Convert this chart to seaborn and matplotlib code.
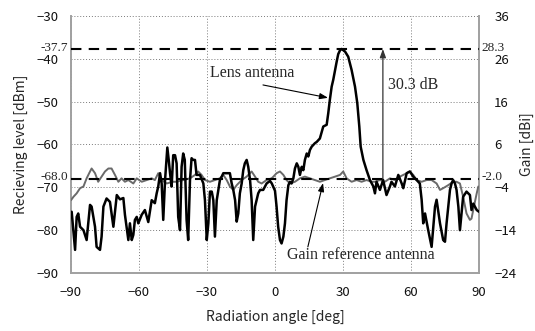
import matplotlib
matplotlib.use("Agg")
import matplotlib.pyplot as plt
import seaborn as sns
import pandas as pd

# ---------------- data ----------------
lens_angle = [-89.7, -88.2, -87.5, -86.8, -86.0, -84.5, -83.1, -81.6, -80.9, -79.4,
              -78.7, -77.2, -76.5, -75.7, -74.3, -72.8, -71.3, -69.8, -68.4, -66.9,
              -66.2, -65.5, -64.7, -64.0, -63.2, -62.5, -61.8, -61.0, -60.3, -58.8,
              -57.4, -55.9, -54.4, -53.0, -52.2, -51.5, -50.7, -50.0, -49.3, -48.5,
              -47.5, -46.8, -46.3, -45.6, -44.9, -44.1, -43.4, -42.7, -41.9, -41.2,
              -40.5, -39.8, -39.0, -38.3, -37.5, -36.8, -36.1, -35.3, -34.6, -33.1,
              -31.6, -30.9, -30.1, -29.4, -28.7, -27.9, -27.2, -26.5, -25.7, -25.0,
              -24.3, -23.5, -22.8, -19.9, -19.1, -18.4, -17.6, -16.9, -16.2, -15.5,
              -14.7, -14.0, -13.3, -12.5, -11.8, -11.0, -10.3, -9.6, -8.8, -8.1,
              -7.4, -6.6, -5.2, -3.7, -2.2, -1.4, 0.0, 0.7, 1.4, 2.2,
              2.9, 3.7, 4.4, 5.1, 5.9, 6.6, 7.3, 8.1, 8.8, 9.6,
              10.3, 11.0, 11.8, 12.5, 13.2, 14.0, 14.7, 15.4, 16.2, 17.6,
              18.4, 19.8, 21.3, 22.8, 23.5, 24.2, 25.0, 25.7, 26.5, 27.2,
              27.9, 28.7, 29.4, 30.9, 32.3, 33.8, 35.3, 36.3, 37.2, 37.8,
              39.0, 40.4, 41.9, 43.4, 44.1, 44.8, 46.3, 47.7, 48.5, 49.2,
              50.7, 51.4, 52.9, 54.4, 55.9, 56.6, 58.1, 59.5, 61.0, 62.5,
              63.9, 64.7, 65.4, 66.2, 67.6, 69.1, 70.6, 71.3, 72.8, 74.2,
              75.0, 75.7, 77.2, 77.9, 78.6, 79.4, 80.1, 80.9, 81.6, 82.3,
              83.0, 84.5, 86.0, 86.7, 87.5, 89.0, 90.0]
lens_level = [-75.7, -84.6, -76.9, -76.1, -79.2, -80.0, -82.3, -74.1, -74.5, -79.2,
              -83.9, -84.6, -81.5, -74.5, -72.6, -73.4, -79.2, -71.8, -72.8, -72.5,
              -76.4, -79.2, -82.3, -78.4, -82.3, -81.1, -77.6, -76.9, -78.4, -76.4,
              -75.3, -78.1, -73.0, -73.7, -71.4, -69.8, -66.7, -69.1, -77.6, -68.3,
              -60.7, -64.0, -66.7, -69.8, -62.5, -62.5, -64.4, -76.9, -80.0, -65.2,
              -62.1, -63.6, -77.6, -82.3, -68.3, -63.2, -63.6, -63.6, -67.1, -67.1,
              -69.1, -73.0, -82.3, -78.4, -71.0, -71.0, -73.0, -81.5, -73.0, -70.6,
              -68.3, -67.5, -66.7, -66.7, -69.1, -70.6, -73.0, -78.0, -76.1, -71.4,
              -69.1, -66.0, -64.4, -63.6, -65.2, -68.3, -73.0, -82.3, -74.5, -73.0,
              -71.4, -70.6, -70.6, -69.1, -68.5, -69.1, -70.8, -74.5, -79.2, -82.3,
              -83.1, -81.5, -78.4, -73.0, -69.5, -68.7, -69.1, -67.9, -65.6, -64.4,
              -65.2, -67.1, -65.2, -66.0, -63.6, -62.1, -62.8, -61.3, -60.5, -59.7,
              -59.4, -58.6, -55.8, -55.4, -52.7, -49.6, -46.5, -44.9, -42.6, -40.7,
              -38.9, -38.0, -37.7, -38.3, -39.5, -42.6, -46.5, -50.3, -55.8, -60.5,
              -63.6, -66.0, -68.3, -69.8, -71.4, -68.7, -70.6, -68.3, -70.2, -71.8,
              -69.8, -68.7, -69.8, -67.1, -69.1, -70.2, -66.7, -66.3, -67.5, -68.3,
              -69.1, -72.9, -78.4, -76.1, -80.0, -83.9, -74.5, -72.9, -78.4, -82.3,
              -82.7, -78.4, -70.6, -69.1, -68.3, -69.1, -70.6, -74.5, -80.0, -76.1,
              -72.2, -71.0, -71.8, -75.3, -73.8, -75.3, -75.7]

ref_angle = [-90.0, -88.9, -87.5, -86.0, -84.5, -83.1, -81.6, -80.9, -79.4, -78.0,
             -76.5, -75.0, -73.5, -72.1, -70.6, -69.1, -67.7, -66.2, -64.7, -62.5,
             -61.0, -58.8, -56.6, -54.4, -53.0, -51.5, -50.0, -47.8, -44.9, -43.4,
             -40.5, -37.5, -35.3, -33.9, -32.4, -30.9, -28.7, -26.5, -24.3, -22.8,
             -21.3, -19.9, -18.4, -16.9, -14.7, -12.5, -10.3, -8.8, -7.4, -5.9,
             -3.7, -1.5, -0.7, 0.7, 2.2, 3.7, 5.1, 6.6, 8.8, 11.0,
             13.2, 15.4, 17.6, 19.8, 22.0, 24.2, 26.5, 28.7, 30.1, 31.6,
             33.8, 36.0, 38.2, 40.4, 42.6, 44.1, 46.3, 48.5, 50.7, 52.9,
             55.1, 56.6, 58.1, 59.5, 61.0, 62.5, 64.7, 66.9, 69.1, 71.3,
             72.8, 74.2, 76.4, 78.6, 80.1, 81.6, 83.0, 84.5, 86.0, 86.7,
             88.2, 89.0, 89.7]
ref_level = [-73.0, -72.2, -71.4, -70.2, -69.8, -67.9, -66.3, -65.6, -66.7, -68.7,
             -67.5, -66.3, -65.6, -65.6, -67.1, -68.7, -67.9, -68.7, -68.3, -69.1,
             -67.9, -68.7, -68.3, -67.9, -68.3, -66.7, -68.3, -69.1, -68.7, -68.7,
             -68.3, -67.9, -67.1, -66.3, -67.1, -68.3, -68.7, -68.3, -67.9, -67.1,
             -68.3, -69.8, -70.6, -69.5, -68.3, -67.5, -66.3, -67.5, -68.7, -69.1,
             -68.3, -67.9, -67.5, -66.7, -66.3, -67.1, -68.3, -69.1, -68.7, -67.9,
             -67.5, -67.9, -68.3, -68.7, -68.3, -67.9, -67.5, -67.1, -66.3, -67.9,
             -68.7, -68.3, -68.7, -68.3, -68.7, -68.7, -68.3, -68.7, -67.9, -68.3,
             -67.5, -67.1, -66.7, -66.3, -67.1, -68.3, -68.7, -68.3, -68.3, -69.1,
             -70.6, -70.2, -69.5, -68.7, -68.7, -69.1, -72.2, -76.1, -77.6, -77.3,
             -73.4, -71.4, -69.8]

left_ticks = [-90, -80, -70, -60, -50, -40, -30]
right_ticks = [-24, -14, -4, 6, 16, 26, 36]
x_ticks = [-90, -60, -30, 0, 30, 60, 90]
peak_level = -37.7
ref_mark_level = -68.0
gain_offset = 66.0

# ---------------- style ----------------
sns.set_style("white")
sans = ["Noto Sans CJK JP", "DejaVu Sans"]
serif = ["Liberation Serif", "DejaVu Serif"]
plt.rcParams["font.family"] = sans

fig = plt.figure(figsize=(5.35, 3.31), dpi=100)
ax = fig.add_axes([0.1327, 0.1752, 0.7626, 0.7765])

lens_df = pd.DataFrame({"angle": lens_angle, "level": lens_level})
ref_df = pd.DataFrame({"angle": ref_angle, "level": ref_level})

sns.lineplot(data=ref_df, x="angle", y="level", ax=ax, color="#6a6a6a",
             linewidth=1.4, sort=False, estimator=None, zorder=3)
sns.lineplot(data=lens_df, x="angle", y="level", ax=ax, color="black",
             linewidth=1.8, sort=False, estimator=None, zorder=4)

ax.set_xlim(-90, 90)
ax.set_ylim(-90, -30)
ax.set_xticks(x_ticks)
ax.set_yticks(left_ticks)
ax.grid(True, color="#7a7a7a", linestyle=(0, (1, 2)), linewidth=0.7)
ax.set_axisbelow(True)

for s in ["left", "right", "bottom"]:
    ax.spines[s].set_color("#a0a0a0")
    ax.spines[s].set_linewidth(1.4)
ax.spines["top"].set_visible(False)

ax.tick_params(axis="both", length=0, labelsize=9.5, pad=9, labelcolor="#111111")
ax.set_xlabel("Radiation angle [deg]", fontsize=10, labelpad=8)
ax.set_ylabel("Recieving level [dBm]", fontsize=10, labelpad=6)

# right axis
ax2 = ax.twinx()
ax2.set_ylim(-90 + gain_offset, -30 + gain_offset)
ax2.set_yticks(right_ticks)
ax2.tick_params(axis="y", length=0, labelsize=9.5, pad=11, labelcolor="#111111")
for s in ["left", "right", "bottom", "top"]:
    ax2.spines[s].set_visible(False)
ax2.set_ylabel("Gain [dBi]", fontsize=10)
ax2.yaxis.set_label_coords(1.10, 0.5)

# dashed reference lines
for lev in [peak_level, ref_mark_level]:
    ax.axhline(lev, color="black", linestyle=(0, (5, 3.5)), linewidth=1.5, zorder=5)

# special level labels
lab_kw = dict(va="center", fontsize=9.5, family=serif, clip_on=False)
ax.text(-91.2, peak_level + 0.3, f"-{abs(peak_level):.1f}", ha="right", **lab_kw)
ax.text(-91.2, ref_mark_level + 0.5, f"-{abs(ref_mark_level):.1f}", ha="right", **lab_kw)
ax.text(91.0, peak_level + 0.3, f"{peak_level + gain_offset:.1f}", ha="left", **lab_kw)
ax.text(91.0, ref_mark_level + 0.5, f"-{abs(ref_mark_level + gain_offset):.1f}",
        ha="left", **lab_kw)

# annotations
ax.text(-28.7, -43.3, "Lens antenna", ha="left", va="center", fontsize=11.5, family=serif)
ax.annotate("", xy=(23.4, -49.1), xytext=(-5.3, -46.1),
            arrowprops=dict(arrowstyle="-|>,head_length=0.5,head_width=0.18",
                            color="black", lw=0.8, shrinkA=0, shrinkB=0))

ax.annotate("", xy=(47.6, peak_level), xytext=(47.6, ref_mark_level),
            arrowprops=dict(arrowstyle="-|>,head_length=0.5,head_width=0.18",
                            color="#333333", lw=0.9, shrinkA=0, shrinkB=0))
ax.text(49.8, -46.1, f"{ref_mark_level - peak_level:.1f} dB".replace("-", ""),
        ha="left", va="center", fontsize=11.5, family=serif)

ax.text(37.7, -85.8, "Gain reference antenna", ha="center", va="center",
        fontsize=11.5, family=serif)
ax.annotate("", xy=(21.2, -69.0), xytext=(14.5, -83.9),
            arrowprops=dict(arrowstyle="-|>,head_length=0.5,head_width=0.18",
                            color="black", lw=0.8, shrinkA=0, shrinkB=0))

fig.savefig("out.png", dpi=100)
